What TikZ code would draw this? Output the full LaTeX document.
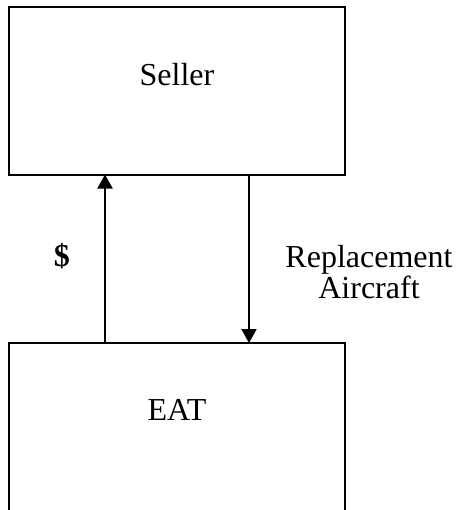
\documentclass[tikz,border=0pt]{standalone}
\usepackage{fontspec}
\setmainfont{Liberation Serif}
\usetikzlibrary{arrows.meta}
\tikzset{
  party/.style={draw, line width=1pt, rectangle, outer sep=0pt, inner sep=0pt,
    minimum width=168pt},
  caption/.style={font=\fontsize{16}{15.5}\selectfont, anchor=base, inner sep=0pt},
  flow/.style={line width=1pt, -{Triangle[length=7pt,width=7.5pt]}}
}
\begin{document}
\begin{tikzpicture}[x=0.5pt,y=-0.5pt]
  \clip (0,0) rectangle (457,510);
  % the two parties
  \node[party, minimum height=83.75pt] (seller) at (177,90.75) {};
  \node[party, minimum height=93.5pt] (eat) at (177,436.5) {};
  \node[caption] (sellertext) at (177,85) {Seller};
  \node[caption] (eattext) at (177,420) {EAT};
  % payment goes up, aircraft comes down
  \coordinate (payx) at (105,0);
  \coordinate (planex) at (249,0);
  \draw[flow] (payx |- eat.north) -- (payx |- seller.south);
  \draw[flow] (planex |- seller.south) -- (planex |- eat.north);
  \node[caption, font=\fontsize{16}{15.5}\selectfont\bfseries] (pay) at (62,266) {\$};
  \node[caption, align=center] (plane) at (369,298) {Replacement\\Aircraft};
\end{tikzpicture}
\end{document}
